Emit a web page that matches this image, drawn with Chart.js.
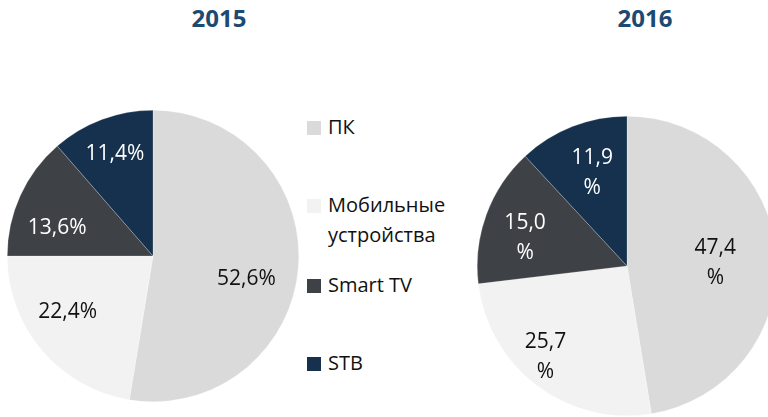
<!DOCTYPE html>
<html>
<head>
<meta charset="utf-8">
<script src="https://cdn.jsdelivr.net/npm/chart.js@4.4.1/dist/chart.umd.min.js"></script>
<style>
  html, body { margin: 0; padding: 0; background: #fff; }
  #wrap { position: relative; width: 768px; height: 417px; overflow: hidden; font-family: "Open Sans", sans-serif; }
  .title { position: absolute; top: 0; width: 100px; text-align: center; font-weight: 700; font-size: 24px; line-height: 36px; color: #1b4a72; }
  .leg { position: absolute; left: 328px; width: 140px; font-size: 20px; line-height: 30px; color: #111; }
  .leg .sw { position: absolute; left: -21px; top: 9px; width: 14px; height: 14px; }
  canvas { position: absolute; }
</style>
</head>
<body>
<div id="wrap">
  <canvas id="c2015" width="292" height="292" style="left:7px;top:110px;width:292px;height:292px"></canvas>
  <canvas id="c2016" width="300" height="300" style="left:477px;top:116px;width:300px;height:300px"></canvas>
</div>
<script>
// ---- data ----
const categories = ['ПК', 'Мобильные устройства', 'Smart TV', 'STB'];
const years = ['2015', '2016'];
const values2015 = [52.6, 22.4, 13.6, 11.4];
const values2016 = [47.4, 25.7, 15.0, 11.9];

// ---- styles ----
const sliceColors = ['#dadada', '#f2f2f2', '#3e4145', '#15314d'];
const labelColors = ['#111111', '#111111', '#ffffff', '#ffffff'];
// label placement: [fraction of radius, angle offset in degrees]
const place2015 = [[0.66, 9], [0.70, 7], [0.685, -8], [0.745, 0]];
const place2016 = [[0.59, 3], [0.815, 5], [0.705, -5], [0.665, 1]];
const titleX = [219, 645];
const legendTops = [112, 190, 270, 348];

const wrap = document.getElementById('wrap');
years.forEach((y, i) => {
  const d = document.createElement('div');
  d.className = 'title';
  d.textContent = y;
  d.style.left = (titleX[i] - 50) + 'px';
  wrap.appendChild(d);
});
categories.forEach((c, i) => {
  const d = document.createElement('div');
  d.className = 'leg';
  d.style.top = legendTops[i] + 'px';
  const s = document.createElement('span');
  s.className = 'sw';
  s.style.background = sliceColors[i];
  d.appendChild(s);
  d.appendChild(document.createTextNode(c));
  wrap.appendChild(d);
});

function fmt(v) { return v.toFixed(1).replace('.', ','); }

const labelPlugin = {
  id: 'sliceLabels',
  afterDatasetsDraw(chart, args, opts) {
    const ctx = chart.ctx;
    const meta = chart.getDatasetMeta(0);
    const vals = chart.data.datasets[0].data;
    ctx.save();
    ctx.font = '21px "Open Sans", sans-serif';
    ctx.textAlign = 'center';
    ctx.textBaseline = 'middle';
    meta.data.forEach((arc, i) => {
      const p = arc.getProps(['x', 'y', 'startAngle', 'endAngle', 'outerRadius'], true);
      const pl = opts.place[i];
      const a = (p.startAngle + p.endAngle) / 2 + pl[1] * Math.PI / 180;
      const r = p.outerRadius * pl[0];
      const cx = p.x + Math.cos(a) * r;
      const cy = p.y + Math.sin(a) * r;
      ctx.fillStyle = labelColors[i];
      if (opts.wrap) {
        ctx.fillText(fmt(vals[i]), cx, cy - 15);
        ctx.fillText('%', cx, cy + 15);
      } else {
        ctx.fillText(fmt(vals[i]) + '%', cx, cy);
      }
    });
    ctx.restore();
  }
};

function makePie(id, values, place, wrapLabels) {
  return new Chart(document.getElementById(id), {
    type: 'pie',
    data: {
      labels: categories,
      datasets: [{
        data: values,
        backgroundColor: sliceColors,
        borderColor: 'rgba(255,255,255,0.45)',
        borderWidth: 0.5
      }]
    },
    options: {
      responsive: false,
      maintainAspectRatio: false,
      animation: false,
      layout: { padding: 0 },
      plugins: {
        legend: { display: false },
        tooltip: { enabled: false },
        sliceLabels: { place: place, wrap: wrapLabels }
      }
    },
    plugins: [labelPlugin]
  });
}

makePie('c2015', values2015, place2015, false);
makePie('c2016', values2016, place2016, true);
</script>
</body>
</html>
